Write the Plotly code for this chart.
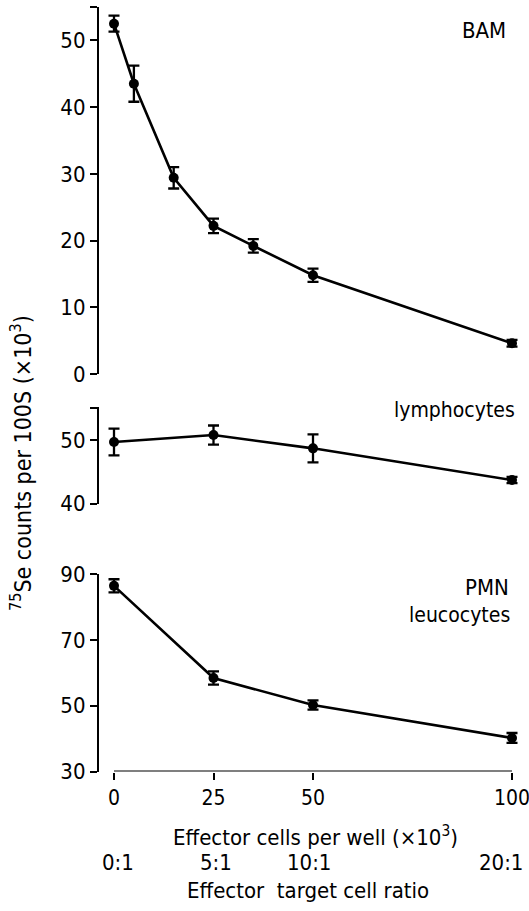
import plotly.graph_objects as go

# ---------------- data ----------------
bam_x = [0, 5, 15, 25, 35, 50, 100]
bam_y = [52.5, 43.5, 29.4, 22.2, 19.2, 14.8, 4.6]
bam_err = [1.2, 2.7, 1.6, 1.1, 1.0, 1.0, 0.5]

lym_x = [0, 25, 50, 100]
lym_y = [49.7, 50.8, 48.7, 43.7]
lym_err = [2.1, 1.5, 2.2, 0.5]

pmn_x = [0, 25, 50, 100]
pmn_y = [86.4, 58.4, 50.2, 40.2]
pmn_err = [2.0, 2.0, 1.4, 1.5]

x_ticks = [0, 25, 50, 100]
ratio_labels = ["0:1", "5:1", "10:1", "20:1"]

bam_ticks = [0, 10, 20, 30, 40, 50, 55]
lym_ticks = [40, 50, 55]
pmn_ticks = [30, 50, 70, 90]

# ---------------- layout constants ----------------
W, H = 529, 911
FONT = "DejaVu Sans Condensed, DejaVu Sans, sans-serif"
FS = 21
def px(x):
    return x / W
def py(y):
    return (H - y) / H

X0, X1 = 114, 512          # pixel positions of x = 0 and x = 100
XPAD = 4                   # data-unit padding so end markers are not clipped
scale = (X1 - X0) / 100.0
xrange_ = [-XPAD, 100 + XPAD]
xdom = [px(X0 - XPAD * scale), px(X1 + XPAD * scale)]
ypos = px(98)

fig = go.Figure()

def add_series(x, y, e, xa, ya):
    fig.add_trace(go.Scatter(
        x=x, y=y, xaxis=xa, yaxis=ya, mode="lines+markers",
        line=dict(color="black", width=2.6),
        marker=dict(color="black", size=10),
        error_y=dict(type="data", array=e, visible=True, color="black",
                     thickness=2.3, width=5.5),
        cliponaxis=False, showlegend=False))

add_series(bam_x, bam_y, bam_err, "x", "y")
add_series(lym_x, lym_y, lym_err, "x2", "y2")
add_series(pmn_x, pmn_y, pmn_err, "x3", "y3")

yax_common = dict(anchor="free", position=ypos, showline=True, linecolor="black",
                  linewidth=2.2, ticks="outside", ticklen=7, tickwidth=2.2,
                  tickcolor="black", showgrid=False, zeroline=False,
                  tickfont=dict(family=FONT, size=FS + 1, color="black"),
                  automargin=False, fixedrange=True)

def hidden_x(dom_anchor):
    return dict(domain=xdom, range=xrange_, visible=False, anchor=dom_anchor,
                automargin=False)

def tick_text(vals, hide):
    return [("" if v in hide else str(v)) for v in vals]

fig.update_layout(
    width=W, height=H,
    margin=dict(l=0, r=0, t=0, b=0),
    paper_bgcolor="white", plot_bgcolor="white",
    xaxis=hidden_x("y"),
    xaxis2=hidden_x("y2"),
    xaxis3=dict(domain=xdom, range=xrange_, anchor="y3", showline=False,
                ticks="outside", ticklen=7, tickwidth=2.2, tickcolor="black",
                tickvals=x_ticks, showgrid=False, zeroline=False,
                automargin=False, ticklabeloverflow="allow",
                tickfont=dict(family=FONT, size=FS, color="black")),
    yaxis=dict(domain=[py(374), py(7)], range=[0, 55], tickvals=bam_ticks,
               ticktext=tick_text(bam_ticks, [55]), **yax_common),
    yaxis2=dict(domain=[py(503.5), py(406.5)], range=[40, 55.3], tickvals=lym_ticks,
                ticktext=tick_text(lym_ticks, [55]), **yax_common),
    yaxis3=dict(domain=[py(771.5), py(574)], range=[30, 90], tickvals=pmn_ticks,
                ticktext=tick_text(pmn_ticks, []), **yax_common),
    font=dict(family=FONT, size=FS, color="black"),
)

# x-axis baseline only from the first to the last tick (as in the reference)
fig.add_shape(type="line", xref="x3", yref="y3", x0=x_ticks[0], x1=x_ticks[-1],
              y0=pmn_ticks[0], y1=pmn_ticks[0], line=dict(color="black", width=2.2))

def ann(text, x, y, xanchor="center", yanchor="middle", size=FS, **kw):
    fig.add_annotation(text=text, x=x, y=y, xref="paper", yref="paper",
                       xanchor=xanchor, yanchor=yanchor, showarrow=False,
                       font=dict(family=FONT, size=size, color="black"), **kw)

ann("BAM", px(508), py(31), xanchor="right", size=22)
ann("lymphocytes", px(517), py(410), xanchor="right")
ann("PMN", px(511), py(587), xanchor="right", size=22)
ann("leucocytes", px(512), py(615), xanchor="right")
ann("Effector cells per well (×10<sup>3</sup>)", px(315), py(836), size=22)
ann("Effector  target cell ratio", px(308), py(890), size=22)
ann("<sup>75</sup>Se counts per 100S (×10<sup>3</sup>)", px(21), py(463),
    textangle=-90, size=23)

shifts = [4, 2, -4, -11]
for v, lab, s in zip(x_ticks, ratio_labels, shifts):
    fig.add_annotation(text=lab, x=v, y=py(862), xref="x3", yref="paper",
                       xshift=s, showarrow=False, xanchor="center", yanchor="middle",
                       font=dict(family=FONT, size=FS + 1, color="black"))

fig.write_html("out.html", config={"displayModeBar": False},
               post_script="document.body.style.margin='0';document.body.style.overflow='hidden';")
